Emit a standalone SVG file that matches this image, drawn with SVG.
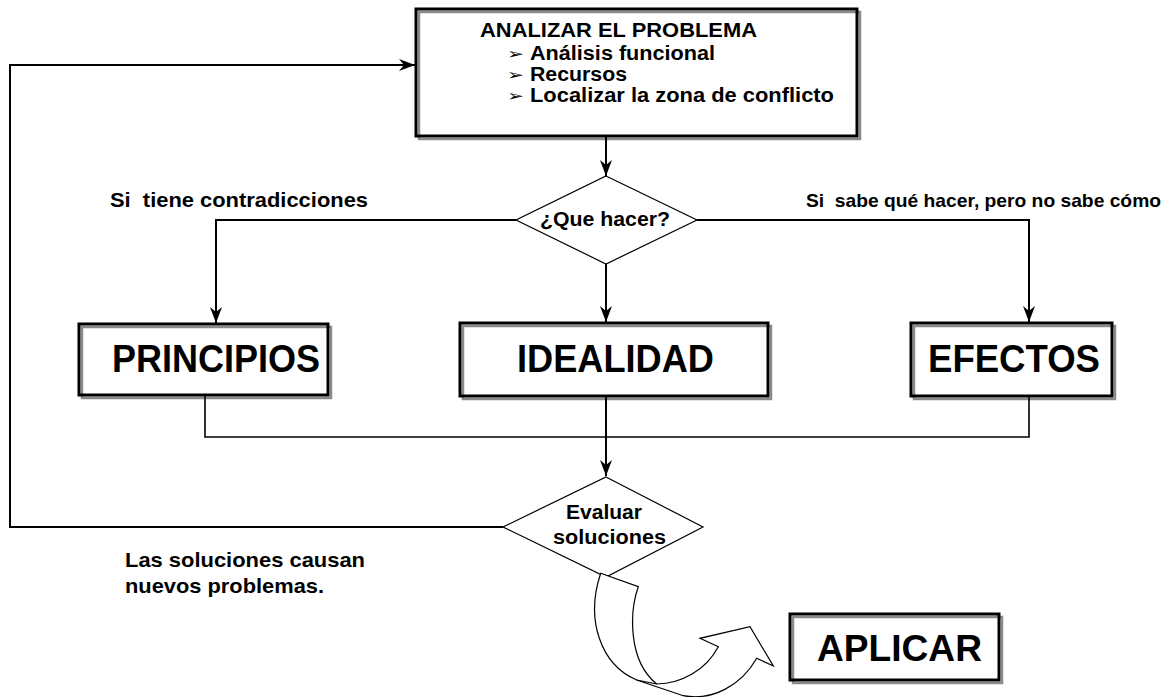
<svg xmlns="http://www.w3.org/2000/svg" width="1173" height="697" viewBox="0 0 1173 697">
<style>
.t{font-family:"Liberation Sans",Arial,sans-serif;font-weight:bold;fill:#000}
.b{font-family:"DejaVu Sans","Liberation Sans",sans-serif;fill:#000}
.conn{fill:none;stroke:#000;stroke-width:2}
.thin{fill:none;stroke:#000;stroke-width:1.6}
.dia{fill:#fff;stroke:#000;stroke-width:1.2}
.bg{fill:#fff;stroke:none}
.box{fill:none;stroke:#000;stroke-width:3}
.sh{fill:none;stroke:#8a8a8a;stroke-width:2.5}
.blk{fill:#fff;stroke:#000;stroke-width:1.2;stroke-linejoin:miter}
</style>
<defs>
<marker id="ah" markerUnits="userSpaceOnUse" markerWidth="18" markerHeight="14" refX="16" refY="7" orient="auto" viewBox="0 0 18 14">
<path d="M0,1 L16,7 L0,13 L5,7 Z" fill="#000"/>
</marker>
</defs>
<rect width="1173" height="697" fill="#fff"/>

<g id="analizar">
<rect class="bg" x="416" y="9" width="441" height="127"/>
<rect class="sh" x="419" y="12" width="441" height="127"/>
<rect class="box" x="416" y="9" width="441" height="127"/>
<text class="t" x="480" y="37" font-size="20" textLength="277" lengthAdjust="spacingAndGlyphs">ANALIZAR EL PROBLEMA</text>
<text class="b" x="507" y="59" font-size="15" textLength="17" lengthAdjust="spacingAndGlyphs">➢</text>
<text class="t" x="530" y="60" font-size="20" textLength="185" lengthAdjust="spacingAndGlyphs">Análisis funcional</text>
<text class="b" x="507" y="80" font-size="15" textLength="17" lengthAdjust="spacingAndGlyphs">➢</text>
<text class="t" x="530" y="81" font-size="20" textLength="97" lengthAdjust="spacingAndGlyphs">Recursos</text>
<text class="b" x="507" y="101" font-size="15" textLength="17" lengthAdjust="spacingAndGlyphs">➢</text>
<text class="t" x="530" y="102" font-size="20" textLength="304" lengthAdjust="spacingAndGlyphs">Localizar la zona de conflicto</text>
</g>

<g id="quehacer">
<polygon class="dia" points="606,176 697,220 606,264 516,220"/>
<text class="t" x="540" y="226" font-size="20" textLength="130" lengthAdjust="spacingAndGlyphs">¿Que hacer?</text>
</g>

<g id="label-contradicciones">
<text class="t" x="110" y="207" font-size="21" textLength="258" lengthAdjust="spacingAndGlyphs" xml:space="preserve">Si  tiene contradicciones</text>
</g>
<g id="label-sabe">
<text class="t" x="806" y="207" font-size="19" textLength="355" lengthAdjust="spacingAndGlyphs" xml:space="preserve">Si  sabe qué hacer, pero no sabe cómo</text>
</g>

<g id="principios">
<rect class="bg" x="79" y="324" width="249" height="71"/>
<rect class="sh" x="82" y="327" width="249" height="71"/>
<rect class="box" x="79" y="324" width="249" height="71"/>
<text class="t" x="112" y="372" font-size="38" textLength="208" lengthAdjust="spacingAndGlyphs">PRINCIPIOS</text>
</g>

<g id="idealidad">
<rect class="bg" x="460" y="323" width="308" height="73"/>
<rect class="sh" x="463" y="326" width="308" height="73"/>
<rect class="box" x="460" y="323" width="308" height="73"/>
<text class="t" x="517" y="372" font-size="38" textLength="197" lengthAdjust="spacingAndGlyphs">IDEALIDAD</text>
</g>

<g id="efectos">
<rect class="bg" x="911" y="323" width="201" height="73"/>
<rect class="sh" x="914" y="326" width="201" height="73"/>
<rect class="box" x="911" y="323" width="201" height="73"/>
<text class="t" x="928" y="372" font-size="38" textLength="172" lengthAdjust="spacingAndGlyphs">EFECTOS</text>
</g>

<g id="evaluar">
<polygon class="dia" points="606,477 703,527 606,577 503,527"/>
<text class="t" x="566" y="519" font-size="20" textLength="76" lengthAdjust="spacingAndGlyphs">Evaluar</text>
<text class="t" x="553" y="544" font-size="20" textLength="113" lengthAdjust="spacingAndGlyphs">soluciones</text>
</g>

<g id="label-nuevos">
<text class="t" x="125" y="567" font-size="21" textLength="240" lengthAdjust="spacingAndGlyphs">Las soluciones causan</text>
<text class="t" x="125" y="593" font-size="21" textLength="199" lengthAdjust="spacingAndGlyphs">nuevos problemas.</text>
</g>

<g id="aplicar">
<rect class="bg" x="790" y="614" width="209" height="66"/>
<rect class="sh" x="793" y="617" width="209" height="66"/>
<rect class="box" x="790" y="614" width="209" height="66"/>
<text class="t" x="817" y="661" font-size="37" textLength="165" lengthAdjust="spacingAndGlyphs">APLICAR</text>
</g>

<g id="connectors">
<path class="conn" d="M606,137 L606,176" marker-end="url(#ah)"/>
<path class="conn" d="M516,220 L216,220 L216,323" marker-end="url(#ah)"/>
<path class="conn" d="M697,220 L1029,220 L1029,322" marker-end="url(#ah)"/>
<path class="conn" d="M606,264 L606,322" marker-end="url(#ah)"/>
<path class="thin" d="M205,396 L205,437 L1029,437 L1029,397"/>
<path class="conn" d="M606,397 L606,476" marker-end="url(#ah)"/>
<path class="conn" d="M503,527 L10,527 L10,65 L415,65" marker-end="url(#ah)"/>
<path class="blk" d="M600.7,573.3 L638.3,586.7 C630,610 627,660 656.7,684 C681,684 706,670 718.3,646.7 L700,638.3 L750,626.7 L773.3,666 L756.7,658.3 C741,686 712,701 683.3,695.7 L636.7,680 C601,665 585,620 600.7,573.3 Z"/>
<path class="blk" d="M636.7,680 L656.7,684"/>
</g>
</svg>
